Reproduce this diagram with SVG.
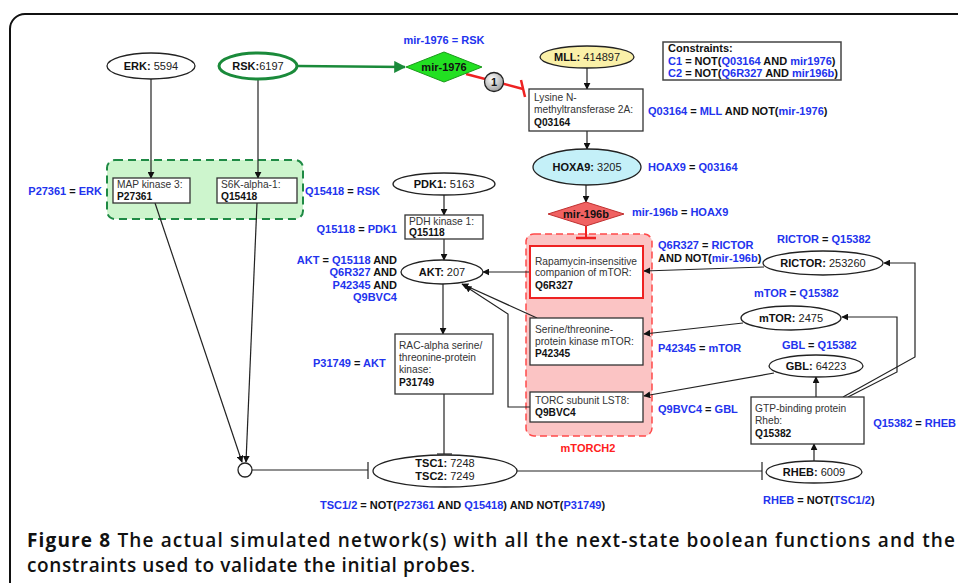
<svg xmlns="http://www.w3.org/2000/svg" width="958" height="583" viewBox="0 0 958 583">
<defs>
<style>
text{font-family:"Liberation Sans",Arial,sans-serif;}
.nd{fill:#fff;stroke:#222;stroke-width:1.3;}
.bx{fill:#fff;stroke:#333;stroke-width:1.3;}
.nt{font-size:11px;fill:#222;text-anchor:middle;}
.bt{font-size:10.2px;fill:#333;}
.b{font-weight:bold;fill:#111;}
.lbl{font-size:11px;font-weight:bold;fill:#2233ee;}
.k{fill:#111;}
.ln{fill:none;stroke:#222;stroke-width:1.2;}
.ar{marker-end:url(#ah);}
.cap{font-family:"Open Sans","DejaVu Sans",sans-serif;font-size:19px;fill:#111;}
</style>
<marker id="ah" viewBox="0 0 10 10" refX="9" refY="5" markerWidth="7" markerHeight="7" markerUnits="userSpaceOnUse" orient="auto"><path d="M0,0 L10,5 L0,10 z" fill="#111"/></marker>
<marker id="ahg" viewBox="0 0 10 10" refX="9" refY="5" markerWidth="12" markerHeight="12" markerUnits="userSpaceOnUse" orient="auto"><path d="M0,0 L10,5 L0,10 z" fill="#1a8a3a"/></marker>
<radialGradient id="gr" cx="0.4" cy="0.35" r="0.7"><stop offset="0" stop-color="#ffffff"/><stop offset="1" stop-color="#9a9a9a"/></radialGradient>
</defs>
<rect x="0" y="0" width="958" height="583" fill="#fff"/>
<rect x="10" y="14" width="980" height="620" rx="15" fill="none" stroke="#111" stroke-width="2"/>

<g id="grp-green"><rect x="107" y="160" width="196" height="59" rx="8" fill="#cdf5cd" stroke="#1f8a45" stroke-width="2" stroke-dasharray="8,5"/></g>
<g id="grp-mtorc2"><rect x="526" y="234" width="126" height="202" rx="8" fill="#fbc4c4" stroke="#ff4a4a" stroke-width="1.5" stroke-dasharray="7,4"/>
<text x="588" y="452" text-anchor="middle" style="font-size:11px;font-weight:bold;fill:#ff2020;">mTORCH2</text></g>

<g id="connectors">
<line class="ln ar" x1="151" y1="79" x2="151" y2="178"/>
<line class="ln ar" x1="258" y1="79" x2="258" y2="178"/>
<line x1="297" y1="66" x2="405" y2="67" stroke="#1a8a3a" stroke-width="2.5" marker-end="url(#ahg)"/>
<line x1="466" y1="74" x2="523" y2="89" stroke="#ee2222" stroke-width="2.5"/>
<line x1="521" y1="80" x2="525" y2="97" stroke="#ee2222" stroke-width="2.5"/>
<line class="ln ar" x1="587" y1="68" x2="587" y2="89"/>
<line class="ln ar" x1="587" y1="131" x2="587" y2="149"/>
<line class="ln ar" x1="586" y1="185" x2="586" y2="202"/>
<line x1="586" y1="226" x2="586" y2="238" stroke="#ee2222" stroke-width="2"/>
<line x1="576" y1="238" x2="596" y2="238" stroke="#ee2222" stroke-width="2.5"/>
<line class="ln ar" x1="444" y1="195" x2="444" y2="215"/>
<line class="ln ar" x1="444" y1="239" x2="444" y2="260"/>
<line class="ln ar" x1="530" y1="272" x2="483" y2="272"/>
<line class="ln ar" x1="537" y1="318" x2="462" y2="284"/>
<polyline class="ln ar" points="530,407 508,407 508,314 465,286"/>
<line class="ln ar" x1="443" y1="284" x2="443" y2="334"/>
<line class="ln" x1="444" y1="394" x2="444" y2="454"/>
<line class="ln" x1="437" y1="454" x2="452" y2="454"/>
<line class="ln ar" x1="155" y1="203" x2="242" y2="462"/>
<line class="ln ar" x1="257" y1="203" x2="246" y2="462"/>
<line class="ln" x1="252" y1="470" x2="368" y2="470"/>
<line class="ln" x1="368" y1="462" x2="368" y2="479"/>
<line class="ln" x1="517" y1="471" x2="762" y2="471"/>
<line class="ln" x1="762" y1="462" x2="762" y2="480"/>
<line class="ln ar" x1="814" y1="461" x2="814" y2="444"/>
<line class="ln ar" x1="816" y1="397" x2="816" y2="377"/>
<polyline class="ln ar" points="843,397 915,357 915,263 884,263"/>
<polyline class="ln ar" points="848,397 897,372 897,317 842,317"/>
<line class="ln ar" x1="764" y1="267" x2="644" y2="271"/>
<line class="ln ar" x1="743" y1="323" x2="644" y2="334"/>
<line class="ln ar" x1="774" y1="373" x2="644" y2="396"/>
</g>

<g id="marker1"><circle cx="494" cy="82" r="9.5" fill="url(#gr)" stroke="#222" stroke-width="1.3"/><text x="494" y="86" text-anchor="middle" style="font-size:11px;font-weight:bold;fill:#111;">1</text></g>

<g id="n-erk"><ellipse class="nd" cx="151" cy="66" rx="44" ry="13"/><text class="nt" x="151" y="70"><tspan class="b">ERK:</tspan> 5594</text></g>
<g id="n-rsk"><ellipse cx="258" cy="66" rx="39" ry="13" fill="#fff" stroke="#1a8a3a" stroke-width="3"/><text class="nt" x="258" y="70"><tspan class="b">RSK:</tspan>6197</text></g>
<g id="n-mir1976"><polygon points="406,67 444,52 482,67 444,82" fill="#22e022" stroke="#1a9a1a" stroke-width="1"/><text class="nt b" x="444" y="71">mir-1976</text></g>
<g id="n-mll"><ellipse cx="587" cy="57" rx="47" ry="11" fill="#faf0a8" stroke="#222" stroke-width="1.3"/><text class="nt" x="587" y="61"><tspan class="b">MLL:</tspan> 414897</text></g>
<g id="n-q03164"><rect class="bx" x="529" y="89" width="114" height="42"/><text class="bt" x="534" y="101">Lysine N-</text><text class="bt" x="534" y="113">methyltransferase 2A:</text><text class="bt b" x="534" y="126">Q03164</text></g>
<g id="n-hoxa9"><ellipse cx="587" cy="167" rx="54" ry="18" fill="#c4f0f8" stroke="#222" stroke-width="1.3"/><text class="nt" x="587" y="171"><tspan class="b">HOXA9:</tspan> 3205</text></g>
<g id="constraints"><rect x="663" y="42" width="178" height="38" fill="#fff" stroke="#444" stroke-width="1.5"/>
<text class="lbl" x="668" y="52"><tspan class="k">Constraints:</tspan></text>
<text class="lbl" x="668" y="65">C1 <tspan class="k">= NOT(</tspan>Q03164 <tspan class="k">AND</tspan> mir1976<tspan class="k">)</tspan></text>
<text class="lbl" x="668" y="77">C2 <tspan class="k">= NOT(</tspan>Q6R327 <tspan class="k">AND</tspan> mir196b<tspan class="k">)</tspan></text></g>
<g id="n-p27361"><rect class="bx" x="113" y="178" width="77" height="25"/><text class="bt" x="117" y="188">MAP kinase 3:</text><text class="bt b" x="117" y="200">P27361</text></g>
<g id="n-q15418"><rect class="bx" x="217" y="178" width="80" height="25"/><text class="bt" x="221" y="188">S6K-alpha-1:</text><text class="bt b" x="221" y="200">Q15418</text></g>
<g id="n-pdk1"><ellipse class="nd" cx="444" cy="184" rx="51" ry="11"/><text class="nt" x="444" y="188"><tspan class="b">PDK1:</tspan> 5163</text></g>
<g id="n-q15118"><rect class="bx" x="405" y="215" width="78" height="24"/><text class="bt" x="409" y="225">PDH kinase 1:</text><text class="bt b" x="409" y="236">Q15118</text></g>
<g id="n-akt"><ellipse class="nd" cx="442" cy="272" rx="41" ry="12"/><text class="nt" x="442" y="276"><tspan class="b">AKT:</tspan> 207</text></g>
<g id="n-p31749"><rect class="bx" x="395" y="334" width="98" height="60"/><text class="bt" x="399" y="349">RAC-alpha serine/</text><text class="bt" x="399" y="361">threonine-protein</text><text class="bt" x="399" y="373">kinase:</text><text class="bt b" x="399" y="386">P31749</text></g>
<g id="n-mir196b"><polygon points="548,214 586,202 624,214 586,226" fill="#f06262" stroke="#c03030" stroke-width="1"/><text class="nt b" x="586" y="218">mir-196b</text></g>
<g id="n-q6r327"><rect x="530" y="246" width="113" height="52" fill="#fff" stroke="#ee2222" stroke-width="2"/><text class="bt" x="535" y="265">Rapamycin-insensitive</text><text class="bt" x="535" y="276">companion of mTOR:</text><text class="bt b" x="535" y="289">Q6R327</text></g>
<g id="n-p42345"><rect class="bx" x="530" y="318" width="113" height="47"/><text class="bt" x="535" y="333">Serine/threonine-</text><text class="bt" x="535" y="345">protein kinase mTOR:</text><text class="bt b" x="535" y="357">P42345</text></g>
<g id="n-q9bvc4"><rect class="bx" x="530" y="392" width="113" height="30"/><text class="bt" x="535" y="404">TORC subunit LST8:</text><text class="bt b" x="535" y="416">Q9BVC4</text></g>
<g id="n-rictor"><ellipse class="nd" cx="823" cy="263" rx="60" ry="12"/><text class="nt" x="823" y="267"><tspan class="b">RICTOR:</tspan> 253260</text></g>
<g id="n-mtor"><ellipse class="nd" cx="791" cy="318" rx="50" ry="12"/><text class="nt" x="791" y="322"><tspan class="b">mTOR:</tspan> 2475</text></g>
<g id="n-gbl"><ellipse class="nd" cx="816" cy="366" rx="47" ry="11"/><text class="nt" x="816" y="370"><tspan class="b">GBL:</tspan> 64223</text></g>
<g id="n-q15382"><rect class="bx" x="751" y="397" width="113" height="47"/><text class="bt" x="755" y="412">GTP-binding protein</text><text class="bt" x="755" y="424">Rheb:</text><text class="bt b" x="755" y="437">Q15382</text></g>
<g id="n-rheb"><ellipse class="nd" cx="814" cy="472" rx="48" ry="11"/><text class="nt" x="814" y="476"><tspan class="b">RHEB:</tspan> 6009</text></g>
<g id="n-tsc"><ellipse class="nd" cx="445" cy="471" rx="72" ry="16"/><text class="nt" x="445" y="467"><tspan class="b">TSC1:</tspan> 7248</text><text class="nt" x="445" y="480"><tspan class="b">TSC2:</tspan> 7249</text></g>
<g id="n-and"><circle cx="245" cy="470" r="7" fill="#fff" stroke="#222" stroke-width="1.3"/></g>

<g id="labels">
<text class="lbl" x="444" y="44" text-anchor="middle">mir-1976 = RSK</text>
<text class="lbl" x="648" y="115">Q03164 <tspan class="k">=</tspan> MLL <tspan class="k">AND NOT(</tspan>mir-1976<tspan class="k">)</tspan></text>
<text class="lbl" x="648" y="171">HOAX9 <tspan class="k">=</tspan> Q03164</text>
<text class="lbl" x="102" y="195" text-anchor="end">P27361 <tspan class="k">=</tspan> ERK</text>
<text class="lbl" x="305" y="195">Q15418 <tspan class="k">=</tspan> RSK</text>
<text class="lbl" x="397" y="233" text-anchor="end">Q15118 <tspan class="k">=</tspan> PDK1</text>
<text class="lbl" x="397" y="264" text-anchor="end">AKT <tspan class="k">=</tspan> Q15118 <tspan class="k">AND</tspan></text>
<text class="lbl" x="397" y="276" text-anchor="end">Q6R327 <tspan class="k">AND</tspan></text>
<text class="lbl" x="397" y="289" text-anchor="end">P42345 <tspan class="k">AND</tspan></text>
<text class="lbl" x="397" y="301" text-anchor="end">Q9BVC4</text>
<text class="lbl" x="313" y="367">P31749 <tspan class="k">=</tspan> AKT</text>
<text class="lbl" x="632" y="216">mir-196b <tspan class="k">=</tspan> HOAX9</text>
<text class="lbl" x="658" y="249">Q6R327 <tspan class="k">=</tspan> RICTOR</text>
<text class="lbl" x="658" y="262"><tspan class="k">AND NOT(</tspan>mir-196b<tspan class="k">)</tspan></text>
<text class="lbl" x="777" y="243">RICTOR <tspan class="k">=</tspan> Q15382</text>
<text class="lbl" x="754" y="297">mTOR <tspan class="k">=</tspan> Q15382</text>
<text class="lbl" x="658" y="352">P42345 <tspan class="k">=</tspan> mTOR</text>
<text class="lbl" x="782" y="349">GBL <tspan class="k">=</tspan> Q15382</text>
<text class="lbl" x="658" y="413">Q9BVC4 <tspan class="k">=</tspan> GBL</text>
<text class="lbl" x="956" y="427" text-anchor="end">Q15382 <tspan class="k">=</tspan> RHEB</text>
<text class="lbl" x="320" y="509">TSC1/2 <tspan class="k">= NOT(</tspan>P27361 <tspan class="k">AND</tspan> Q15418<tspan class="k">) AND NOT(</tspan>P31749<tspan class="k">)</tspan></text>
<text class="lbl" x="763" y="504">RHEB <tspan class="k">= NOT(</tspan>TSC1/2<tspan class="k">)</tspan></text>
</g>

<g id="caption">
<text class="cap" x="27" y="547" textLength="928" lengthAdjust="spacing"><tspan font-weight="700">Figure 8</tspan><tspan font-weight="600"> The actual simulated network(s) with all the next-state boolean functions and the</tspan></text>
<text class="cap" x="27" y="572" letter-spacing="0.6"><tspan font-weight="600">constraints used to validate the initial probes</tspan>.</text>
</g>
</svg>
